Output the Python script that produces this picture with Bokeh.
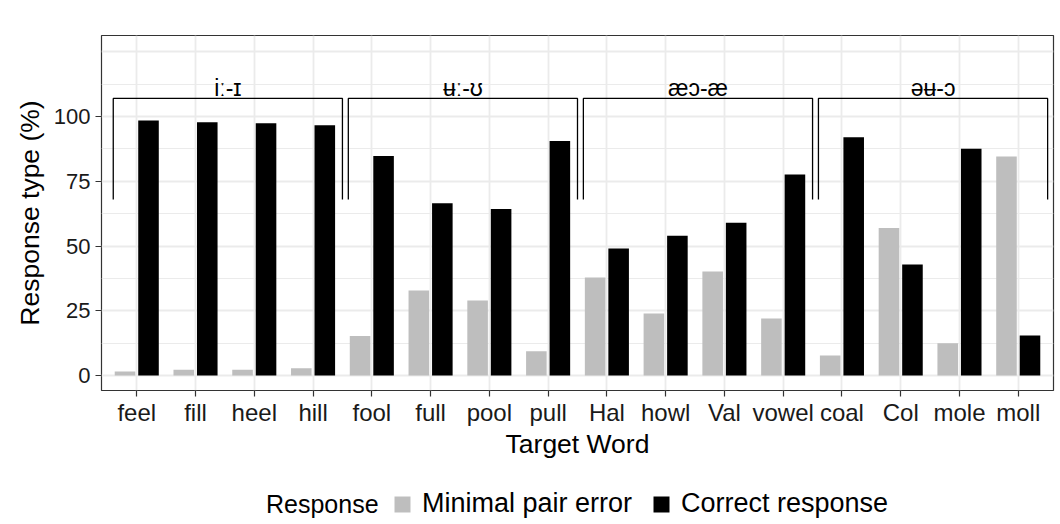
import numpy as np
from bokeh.plotting import figure
from bokeh.layouts import column
from bokeh.models import (Range1d, FixedTicker, Legend, LegendItem,
                          ColumnDataSource)
from bokeh.core.properties import value
from bokeh.transform import dodge
from bokeh.embed import file_html
from bokeh.resources import INLINE

# ---------------- data ----------------
words = ["feel", "fill", "heel", "hill", "fool", "full", "pool", "pull",
         "Hal", "howl", "Val", "vowel", "coal", "Col", "mole", "moll"]
minimal_pair_error = [1.5, 2.2, 2.2, 2.8, 15.2, 32.8, 29.0, 9.4,
                      37.8, 23.9, 40.2, 22.0, 7.7, 57.0, 12.4, 84.6]
correct_response = [98.5, 97.8, 97.4, 96.6, 84.8, 66.5, 64.3, 90.6,
                    49.0, 54.0, 59.0, 77.6, 92.0, 42.9, 87.6, 15.4]
contrast_labels = ["iː-ɪ", "ʉː-ʊ", "æɔ-æ", "əʉ-ɔ"]
contrast_first_word = ["feel", "fool", "Hal", "coal"]
contrast_last_word = ["hill", "pull", "vowel", "moll"]
y_ticks = [0, 25, 50, 75, 100]
legend_title = "Response"
series_names = ["Minimal pair error", "Correct response"]

FONT = "Liberation Sans"
GRAY = "#BEBEBE"

pos = np.arange(1, len(words) + 1)

p = figure(width=1060, height=470, output_backend="svg", toolbar_location=None,
           x_range=Range1d(0.4, len(words) + 0.6), y_range=Range1d(-5.8, 131.3),
           min_border_left=101, min_border_top=35, min_border_right=7,
           min_border_bottom=80)
p.background_fill_color = "white"
p.border_fill_color = "white"
p.outline_line_color = "#333333"
p.outline_line_width = 1.2

# grids
p.xgrid.ticker = FixedTicker(ticks=list(pos))
p.xgrid.grid_line_color = "#EBEBEB"
p.xgrid.grid_line_width = 1.8
grid_major = list(range(0, 126, 25))
grid_minor = [g + 12.5 for g in grid_major]
p.ygrid.ticker = FixedTicker(ticks=grid_major, minor_ticks=grid_minor)
p.ygrid.grid_line_color = "#EBEBEB"
p.ygrid.grid_line_width = 1.8
p.ygrid.minor_grid_line_color = "#EBEBEB"
p.ygrid.minor_grid_line_width = 1.0

# axes
p.xaxis.ticker = FixedTicker(ticks=list(pos))
p.xaxis.major_label_overrides = {int(i): w for i, w in zip(pos, words)}
p.yaxis.ticker = FixedTicker(ticks=y_ticks)
for ax in (p.xaxis[0], p.yaxis[0]):
    ax.axis_line_color = None
    ax.major_tick_line_color = "#333333"
    ax.major_tick_line_width = 1.2
    ax.major_tick_out = 6
    ax.major_tick_in = 0
    ax.minor_tick_line_color = None
    ax.major_label_text_font = FONT
    ax.major_label_text_color = "#1a1a1a"
    ax.axis_label_text_font = FONT
    ax.axis_label_text_font_size = "26.5px"
    ax.axis_label_text_font_style = "normal"
    ax.axis_label_text_color = "black"
p.xaxis.major_label_text_font_size = "24px"
p.yaxis.major_label_text_font_size = "22px"
p.xaxis.axis_label = "Target Word"
p.yaxis.axis_label = "Response type (%)"
p.xaxis.major_label_standoff = 2
p.xaxis.axis_label_standoff = 0
p.yaxis.major_label_standoff = 5
p.yaxis.axis_label_standoff = 6

# bars
src = ColumnDataSource(dict(x=pos, err=minimal_pair_error, cor=correct_response))
r_err = p.vbar(x=dodge("x", -0.2), top="err", bottom=0, width=0.35, source=src,
               fill_color=GRAY, line_color=None)
r_cor = p.vbar(x=dodge("x", 0.2), top="cor", bottom=0, width=0.35, source=src,
               fill_color="black", line_color=None)

# brackets
idx = {w: i + 1 for i, w in enumerate(words)}
bx0 = [idx[w] - 0.4 for w in contrast_first_word]
bx1 = [idx[w] + 0.5 for w in contrast_last_word]
top_y, low_y = 107, 68
xs = [[a, a, b, b] for a, b in zip(bx0, bx1)]
ys = [[low_y, top_y, top_y, low_y] for _ in bx0]
p.multi_line(xs=xs, ys=ys, line_color="black", line_width=1.3)
p.text(x=[(a + b) / 2 for a, b in zip(bx0, bx1)], y=[top_y + 4.0] * 4,
       text=contrast_labels, text_align="center", text_baseline="alphabetic",
       text_font=value(FONT), text_font_size="23px", text_color="black")

# ---------------- legend strip ----------------
lg = figure(width=1060, height=54, output_backend="svg", toolbar_location=None,
            x_axis_type=None, y_axis_type=None,
            x_range=Range1d(0, 1), y_range=Range1d(0, 1), min_border=0)
lg.grid.visible = False
lg.outline_line_color = None
lg.background_fill_color = "white"
lg.border_fill_color = "white"
lsrc = ColumnDataSource(dict(x=pos, err=minimal_pair_error, cor=correct_response))
k_title = lg.vbar(x="x", top="err", width=0.1, source=lsrc,
                  fill_alpha=0, line_alpha=0, visible=False)
k_err = lg.vbar(x="x", top="err", width=0.1, source=lsrc,
                fill_color=GRAY, line_color=None, visible=False)
k_cor = lg.vbar(x="x", top="cor", width=0.1, source=lsrc,
                fill_color="black", line_color=None, visible=False)

common = dict(orientation="horizontal", label_text_font=FONT,
              label_text_color="black", padding=0, margin=0,
              border_line_color=None, background_fill_alpha=0)
legend_t = Legend(items=[LegendItem(label=legend_title, renderers=[k_title])],
                  location=(165, 5), label_text_font_size="25px",
                  glyph_width=0, glyph_height=20, label_standoff=0, spacing=0,
                  **common)
legend_k = Legend(items=[LegendItem(label=series_names[0], renderers=[k_err]),
                         LegendItem(label=series_names[1], renderers=[k_cor])],
                  location=(291, 5), label_text_font_size="27px",
                  glyph_width=20, glyph_height=20, label_standoff=10,
                  spacing=19, **common)
lg.add_layout(legend_t, "center")
lg.add_layout(legend_k, "center")

open("out.html", "w").write(file_html(column(p, lg, spacing=0), INLINE))
